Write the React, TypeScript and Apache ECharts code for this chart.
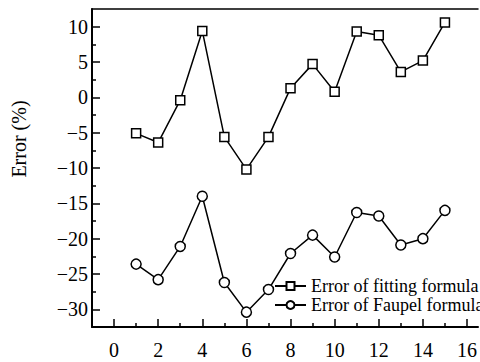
import React, { useEffect, useRef } from "react";
import * as echarts from "echarts";

const xValues = [1, 2, 3, 4, 5, 6, 7, 8, 9, 10, 11, 12, 13, 14, 15];
const fittingError = [-5.1, -6.4, -0.4, 9.4, -5.6, -10.2, -5.6, 1.3, 4.7, 0.8, 9.3, 8.8, 3.6, 5.2, 10.6];
const faupelError = [-23.6, -25.8, -21.1, -14.0, -26.2, -30.4, -27.2, -22.1, -19.5, -22.6, -16.3, -16.8, -20.9, -20.0, -16.0];
const xMajor = [0, 2, 4, 6, 8, 10, 12, 14, 16];
const xMinor = [1, 3, 5, 7, 9, 11, 13, 15];
const yMajor = [-30, -25, -20, -15, -10, -5, 0, 5, 10];
const yMinor = [-27.5, -22.5, -17.5, -12.5, -7.5, -2.5, 2.5, 7.5];
const seriesNames = ["Error of fitting formula", "Error of Faupel formula"];
const yTitle = "Error (%)";

const FONT = "Liberation Serif";

export default function App() {
  const ref = useRef<HTMLDivElement>(null);
  useEffect(() => {
    if (!ref.current) return;
    const chart = echarts.init(ref.current, undefined, { renderer: "svg" });
    const fmt = (v: number) => String(v).replace("-", "\u2212");
    const lineStyle = { color: "#000", width: 2 };
    chart.setOption({
      animation: false,
      backgroundColor: "#fff",
      textStyle: { fontFamily: FONT, color: "#000" },
      grid: { left: 92, right: 0, top: 9, bottom: 35, containLabel: false },
      xAxis: [
        {
          type: "value", min: -1, max: 16.5, position: "bottom",
          axisLine: { show: true, onZero: false, lineStyle },
          axisTick: { show: true, inside: true, length: 8, customValues: xMajor, lineStyle: { color: "#000", width: 1.5 } },
          axisLabel: { customValues: xMajor, fontSize: 20, fontFamily: FONT, color: "#000", margin: 13, formatter: fmt },
          splitLine: { show: false },
        },
        {
          type: "value", min: -1, max: 16.5, position: "bottom",
          axisLine: { show: false, onZero: false },
          axisTick: { show: true, inside: true, length: 4, customValues: xMinor, lineStyle: { color: "#000", width: 1.5 } },
          axisLabel: { show: false },
          splitLine: { show: false },
        },
        {
          type: "value", min: -1, max: 16.5, position: "top",
          axisLine: { show: true, onZero: false, lineStyle: { color: "#000", width: 1.5 } },
          axisTick: { show: false },
          axisLabel: { show: false },
          splitLine: { show: false },
        },
      ],
      yAxis: [
        {
          type: "value", min: -32.5, max: 12.5, position: "left",
          axisLine: { show: true, onZero: false, lineStyle },
          axisTick: { show: true, inside: true, length: 8, customValues: yMajor, lineStyle: { color: "#000", width: 1.5 } },
          axisLabel: { customValues: yMajor, fontSize: 20, fontFamily: FONT, color: "#000", margin: 4, formatter: fmt },
          splitLine: { show: false },
        },
        {
          type: "value", min: -32.5, max: 12.5, position: "left",
          axisLine: { show: false, onZero: false },
          axisTick: { show: true, inside: true, length: 4, customValues: yMinor, lineStyle: { color: "#000", width: 1.5 } },
          axisLabel: { show: false },
          splitLine: { show: false },
        },
      ],
      legend: {
        orient: "vertical",
        left: 274,
        top: 277,
        padding: 0,
        itemGap: 1,
        itemWidth: 31,
        itemHeight: 10,
        textStyle: { fontSize: 18, fontFamily: FONT, color: "#000" },
        data: seriesNames,
      },
      graphic: [
        {
          type: "text",
          x: 19,
          y: 139,
          rotation: Math.PI / 2,
          style: { text: yTitle, fontSize: 20, fontFamily: FONT, fill: "#000", align: "center", verticalAlign: "middle" },
        },
      ],
      series: [
        {
          name: seriesNames[0],
          type: "line",
          data: xValues.map((x, i) => [x, fittingError[i]]),
          symbol: "rect",
          symbolSize: 9,
          lineStyle: { color: "#000", width: 1.5 },
          itemStyle: { color: "#fff", borderColor: "#000", borderWidth: 1.5 },
        },
        {
          name: seriesNames[1],
          type: "line",
          data: xValues.map((x, i) => [x, faupelError[i]]),
          symbol: "circle",
          symbolSize: 10,
          lineStyle: { color: "#000", width: 1.5 },
          itemStyle: { color: "#fff", borderColor: "#000", borderWidth: 1.5 },
        },
      ],
    });
    return () => chart.dispose();
  }, []);
  return (
    <div style={{ position: "fixed", left: 0, top: 0, width: 480, height: 362, background: "#fff" }}>
      <div ref={ref} style={{ width: 480, height: 362 }} />
    </div>
  );
}
